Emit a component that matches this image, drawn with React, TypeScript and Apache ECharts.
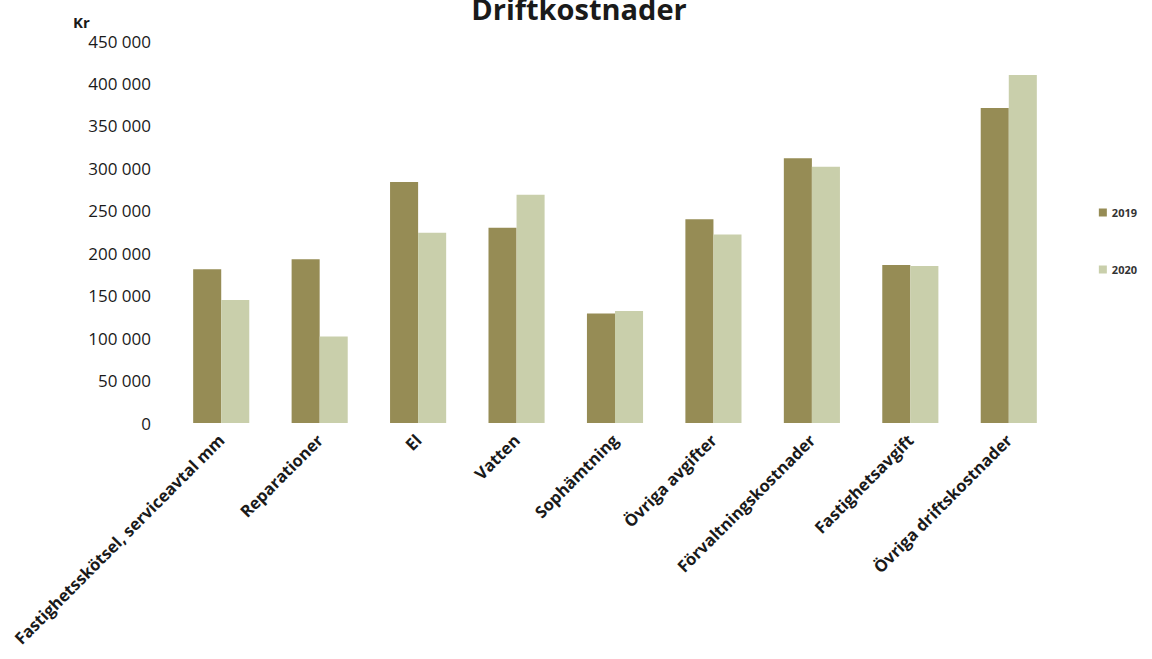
import React, { useEffect, useRef } from "react";
import * as echarts from "echarts";

const categories = [
  "Fastighetsskötsel, serviceavtal mm",
  "Reparationer",
  "El",
  "Vatten",
  "Sophämtning",
  "Övriga avgifter",
  "Förvaltningskostnader",
  "Fastighetsavgift",
  "Övriga driftskostnader",
];
const values2019 = [181000, 193000, 284000, 230000, 129000, 240000, 312000, 186000, 371000];
const values2020 = [145000, 102000, 224000, 269000, 132000, 222000, 302000, 185000, 410000];
const seriesNames = ["2019", "2020"];
const yTicks = { min: 0, max: 450000, interval: 50000 };

const FONT = "'Open Sans', 'Liberation Sans', sans-serif";

export default function App() {
  const ref = useRef<HTMLDivElement>(null);
  useEffect(() => {
    if (!ref.current) return;
    const chart = echarts.init(ref.current, undefined, { renderer: "svg" });
    chart.setOption({
      animation: false,
      backgroundColor: "#ffffff",
      title: {
        text: "Driftkostnader",
        left: 574,
        top: -11,
        textAlign: "center",
        textStyle: { fontFamily: FONT, fontSize: 29, fontWeight: "bold", color: "#1a1a1a" },
      },
      graphic: [
        {
          type: "text",
          left: 73,
          top: 14,
          style: { text: "Kr", fontFamily: FONT, fontSize: 15, fontWeight: "bold", fill: "#1a1a1a" },
        },
      ],
      legend: {
        orient: "vertical",
        right: 10,
        top: 202,
        itemWidth: 8,
        itemHeight: 8,
        itemGap: 46,
        icon: "rect",
        data: seriesNames,
        textStyle: { fontFamily: FONT, fontSize: 11, fontWeight: "bold", color: "#333" },
      },
      grid: { left: 172, right: 94, top: 41, bottom: 236, containLabel: false },
      xAxis: {
        type: "category",
        data: categories,
        axisLine: { show: false },
        axisTick: { show: false },
        axisLabel: {
          rotate: 45,
          interval: 0,
          margin: 14,
          fontFamily: FONT,
          fontSize: 16.5,
          fontWeight: "bold",
          color: "#1a1a1a",
        },
      },
      yAxis: {
        type: "value",
        min: yTicks.min,
        max: yTicks.max,
        interval: yTicks.interval,
        splitLine: { show: false },
        axisLine: { show: false },
        axisTick: { show: false },
        axisLabel: {
          margin: 21,
          fontFamily: FONT,
          fontSize: 17,
          color: "#1a1a1a",
          formatter: (v: number) => String(v).replace(/\B(?=(\d{3})+(?!\d))/g, " "),
        },
      },
      series: [
        {
          name: seriesNames[0],
          type: "bar",
          data: values2019,
          barGap: "0%",
          barCategoryGap: "43%",
          itemStyle: { color: "#968c55" },
        },
        {
          name: seriesNames[1],
          type: "bar",
          data: values2020,
          barGap: "0%",
          barCategoryGap: "43%",
          itemStyle: { color: "#c9cfab" },
        },
      ],
    });
    return () => chart.dispose();
  }, []);
  return (
    <div
      ref={ref}
      style={{ position: "fixed", left: 0, top: 0, width: 1152, height: 659 }}
    />
  );
}
